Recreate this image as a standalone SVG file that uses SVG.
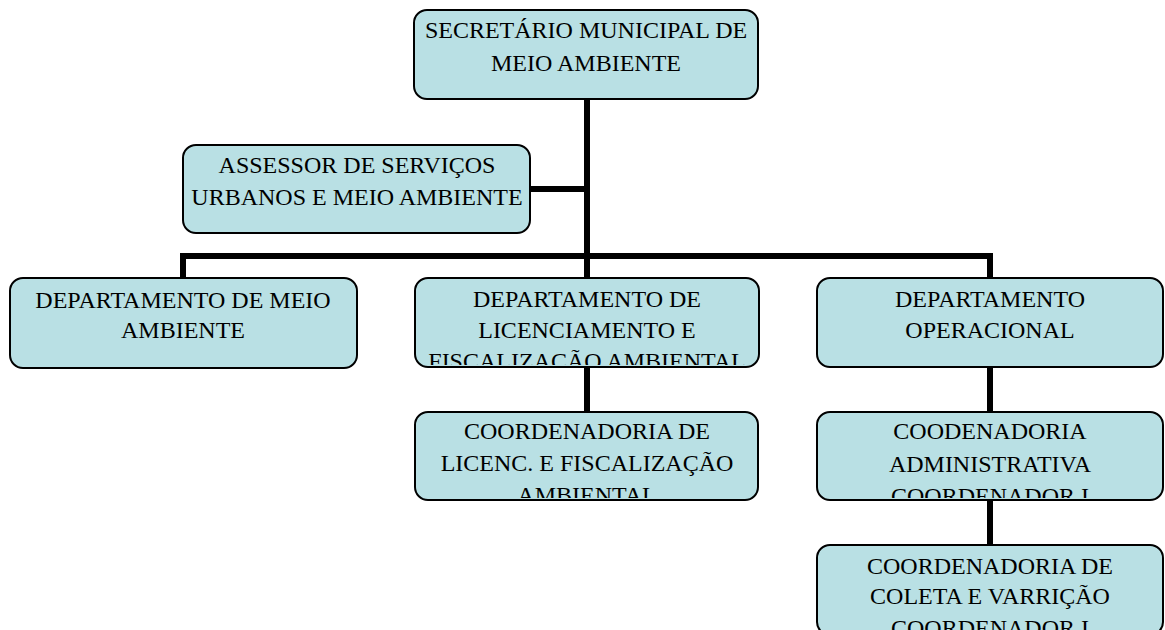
<svg xmlns="http://www.w3.org/2000/svg" width="1165" height="630" viewBox="0 0 1165 630">
<style>
.box{fill:#b9e0e4;stroke:#000;stroke-width:2}
.t{font-family:"Liberation Serif","Times New Roman",serif;font-size:24px;fill:#000;text-anchor:middle}
.c{stroke:#000;stroke-width:6;fill:none;stroke-linecap:butt}
</style>
<defs>
<clipPath id="cMid"><rect x="416" y="279" width="342" height="86"/></clipPath>
<clipPath id="cCoordL"><rect x="416" y="413" width="341" height="85"/></clipPath>
<clipPath id="cCoordA"><rect x="818" y="413" width="344" height="85"/></clipPath>
<clipPath id="cCoordC"><rect x="818" y="546" width="344" height="85"/></clipPath>
</defs>
<rect width="1165" height="630" fill="#fff"/>
<g id="connectors">
<path class="c" d="M587 99 V278"/>
<path class="c" d="M530 189 H587"/>
<path class="c" d="M183 278 V256 H990 V278"/>
<path class="c" d="M587 368 V412"/>
<path class="c" d="M990 368 V412"/>
<path class="c" d="M990 500 V545"/>
</g>
<g id="secretario">
<rect class="box" x="414" y="10" width="344" height="89" rx="13"/>
<text class="t" x="586" y="38">SECRETÁRIO MUNICIPAL DE</text>
<text class="t" x="586" y="71">MEIO AMBIENTE</text>
</g>
<g id="assessor">
<rect class="box" x="183" y="145" width="347" height="88" rx="13"/>
<text class="t" x="357" y="173">ASSESSOR DE SERVIÇOS</text>
<text class="t" x="357" y="205">URBANOS E MEIO AMBIENTE</text>
</g>
<g id="dep-meio">
<rect class="box" x="10" y="278" width="347" height="90" rx="13"/>
<text class="t" x="183" y="308">DEPARTAMENTO DE MEIO</text>
<text class="t" x="183" y="338">AMBIENTE</text>
</g>
<g id="dep-licenc">
<rect class="box" x="415" y="278" width="344" height="89" rx="13"/>
<g clip-path="url(#cMid)">
<text class="t" x="587" y="307">DEPARTAMENTO DE</text>
<text class="t" x="587" y="338">LICENCIAMENTO E</text>
<text class="t" x="587" y="369">FISCALIZAÇÃO AMBIENTAL</text>
</g>
</g>
<g id="dep-oper">
<rect class="box" x="817" y="278" width="346" height="89" rx="13"/>
<text class="t" x="990" y="307">DEPARTAMENTO</text>
<text class="t" x="990" y="338">OPERACIONAL</text>
</g>
<g id="coord-licenc">
<rect class="box" x="415" y="412" width="343" height="88" rx="13"/>
<g clip-path="url(#cCoordL)">
<text class="t" x="587" y="439">COORDENADORIA DE</text>
<text class="t" x="587" y="471">LICENC. E FISCALIZAÇÃO</text>
<text class="t" x="587" y="503">AMBIENTAL</text>
</g>
</g>
<g id="coord-adm">
<rect class="box" x="817" y="412" width="346" height="88" rx="13"/>
<g clip-path="url(#cCoordA)">
<text class="t" x="990" y="439">COODENADORIA</text>
<text class="t" x="990" y="472">ADMINISTRATIVA</text>
<text class="t" x="990" y="504">COORDENADOR I</text>
</g>
</g>
<g id="coord-coleta">
<rect class="box" x="817" y="545" width="346" height="90" rx="13"/>
<g clip-path="url(#cCoordC)">
<text class="t" x="990" y="574">COORDENADORIA DE</text>
<text class="t" x="990" y="604">COLETA E VARRIÇÃO</text>
<text class="t" x="990" y="636">COORDENADOR I</text>
</g>
</g>
</svg>
